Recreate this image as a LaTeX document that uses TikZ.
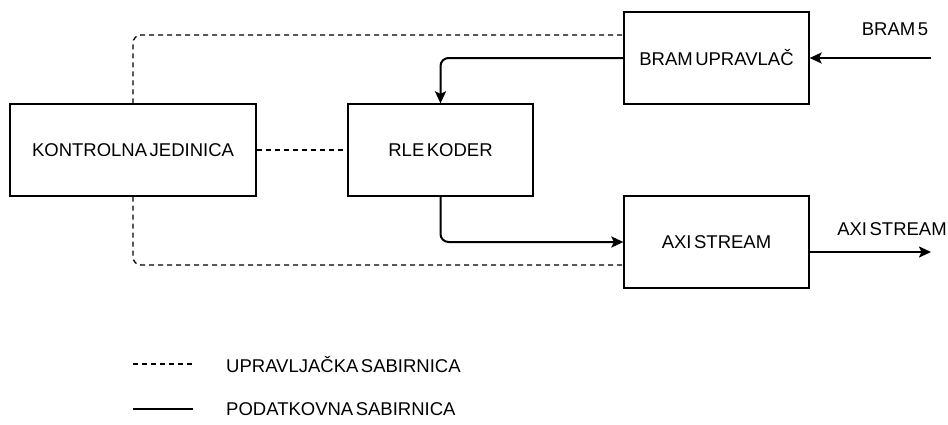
\documentclass[tikz,border=0pt]{standalone}
\usepackage{fontspec}
\setmainfont{Liberation Sans}
\usetikzlibrary{arrows.meta}
\newcommand\tightws{\spaceskip=2.5pt\relax}
\begin{document}
\begin{tikzpicture}[x=1pt,y=-1pt,
  txt/.style={font=\fontsize{18.5}{20}\selectfont\tightws},
  blk/.style={txt,draw,line width=1.3pt,minimum width=185pt,minimum height=92pt,inner sep=0pt},
  ctl/.style={line width=1.3pt,dash pattern=on 5pt off 4pt,rounded corners=8pt},
  dat/.style={line width=2pt,rounded corners=8pt,-{Stealth[length=12pt,width=11pt,inset=2.5pt]}},
  lbl/.style={txt,inner sep=0pt}]
\useasboundingbox (0,0) rectangle (948,424);
\node[blk,minimum width=246pt] (kj) at (133,150) {KONTROLNA JEDINICA};
\node[blk] (rle) at (440.5,150) {RLE KODER};
\node[blk] (bram) at (716.5,58) {BRAM UPRAVLAČ};
\node[blk] (axi) at (716.5,242) {AXI STREAM};
\coordinate (bin) at (931,58);
\coordinate (aout) at (931,252);
\node[lbl] (bl) at (895,29) {BRAM 5};
\node[lbl] (al) at (892,229) {AXI STREAM};
% control bus
\draw[ctl] (kj.north) |- (bram.west |- 0,35);
\draw[ctl] (kj.east) -- (rle.west);
\draw[ctl] (kj.south) |- (axi.west |- 0,265);
% data bus
\draw[dat] (bram.west) -| (rle.north);
\draw[dat] (rle.south) |- (axi.west |- 0,242);
\draw[dat] (bin) -- (bram.east);
\draw[dat] (axi.east |- aout) -- (aout);
% legend
\coordinate (l1a) at (133,364); \coordinate (l1b) at (193,364);
\coordinate (l2a) at (133,409); \coordinate (l2b) at (193,409);
\draw[line width=1.3pt,dash pattern=on 5pt off 4pt] (l1a) -- (l1b);
\draw[line width=2pt] (l2a) -- (l2b);
\node[lbl,anchor=west] (t1) at (226,364) {UPRAVLJAČKA SABIRNICA};
\node[lbl,anchor=west] (t2) at (226,409) {PODATKOVNA SABIRNICA};
\end{tikzpicture}
\end{document}
